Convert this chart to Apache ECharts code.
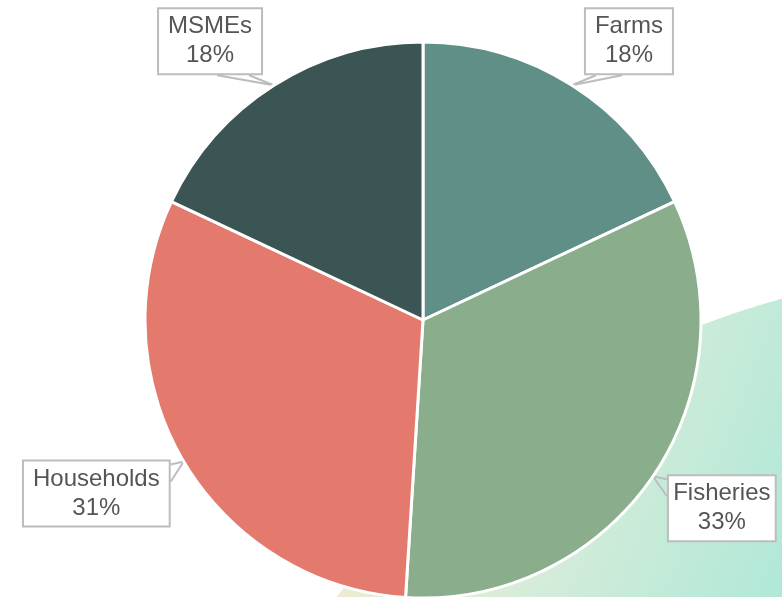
<!DOCTYPE html>
<html>
<head>
<meta charset="utf-8">
<script src="https://cdn.jsdelivr.net/npm/echarts@6/dist/echarts.min.js"></script>
<style>
  html, body { margin: 0; padding: 0; background: #ffffff; }
  #chart { width: 782px; height: 597px; }
</style>
</head>
<body>
<div id="chart"></div>
<script>
// Share of the total by sector (percent)
const categories = ['Farms', 'Fisheries', 'Households', 'MSMEs'];
const shares = [18, 33, 31, 18];
const sliceColors = ['#5f8f87', '#8aad8c', '#e47a6d', '#3a5553'];

const PIE_CX = 423, PIE_CY = 320;

const chart = echarts.init(document.getElementById('chart'), null, { renderer: 'canvas' });

// Place each callout box just beyond the slice edge and draw a V-shaped tail back to it
function calloutLayout(params) {
  const pts = params.labelLinePoints;
  if (!pts) return {};
  const ax = pts[0][0], ay = pts[0][1];
  const w = params.labelRect.width, h = params.labelRect.height;
  const right = ax >= PIE_CX;
  const upper = ay < PIE_CY;
  let left, top, tail;
  if (upper) {
    left = right ? ax + 12 : ax - 11 - w;
    top = ay - 10 - h;
    const b = top + h;
    tail = right
      ? [[left + 12, b], [ax, ay], [left + 38, b]]
      : [[left + w - 46, b], [ax, ay], [left + w - 14, b]];
  } else {
    left = right ? ax + 14 : ax - 13 - w;
    top = ay - 2;
    const sx = right ? left : left + w;
    tail = [[sx, top + 5], [ax, ay], [sx, top + 22]];
  }
  return {
    x: left + w / 2,
    y: top + h / 2,
    align: 'center',
    verticalAlign: 'middle',
    labelLinePoints: tail
  };
}

chart.setOption({
  animation: false,
  backgroundColor: '#ffffff',
  graphic: [{
    type: 'circle',
    z: -10,
    silent: true,
    shape: { cx: 1004, cy: 1112, r: 843 },
    style: {
      fill: {
        type: 'linear', global: true,
        x: 330, y: 420, x2: 782, y2: 597,
        colorStops: [
          { offset: 0, color: '#f7ead0' },
          { offset: 0.5, color: '#d6ecd9' },
          { offset: 1, color: '#b0e8d8' }
        ]
      }
    }
  }],
  series: [{
    type: 'pie',
    center: [PIE_CX, PIE_CY],
    radius: 278,
    startAngle: 90,
    clockwise: true,
    silent: true,
    data: categories.map((name, i) => ({
      name: name,
      value: shares[i],
      itemStyle: { color: sliceColors[i] }
    })),
    itemStyle: { borderColor: '#ffffff', borderWidth: 3 },
    label: {
      show: true,
      position: 'outside',
      formatter: '{b}\n{d}%',
      fontFamily: '"Liberation Sans", Arial, Helvetica, sans-serif',
      fontSize: 24,
      lineHeight: 29,
      color: '#555555',
      align: 'center',
      overflow: 'none',
      backgroundColor: '#ffffff',
      borderColor: '#bdbdbd',
      borderWidth: 2,
      padding: [3, 9]
    },
    labelLine: {
      show: true,
      length: 10,
      length2: 0,
      smooth: false,
      lineStyle: { color: '#bdbdbd', width: 2 }
    },
    labelLayout: calloutLayout
  }]
});
</script>
</body>
</html>
